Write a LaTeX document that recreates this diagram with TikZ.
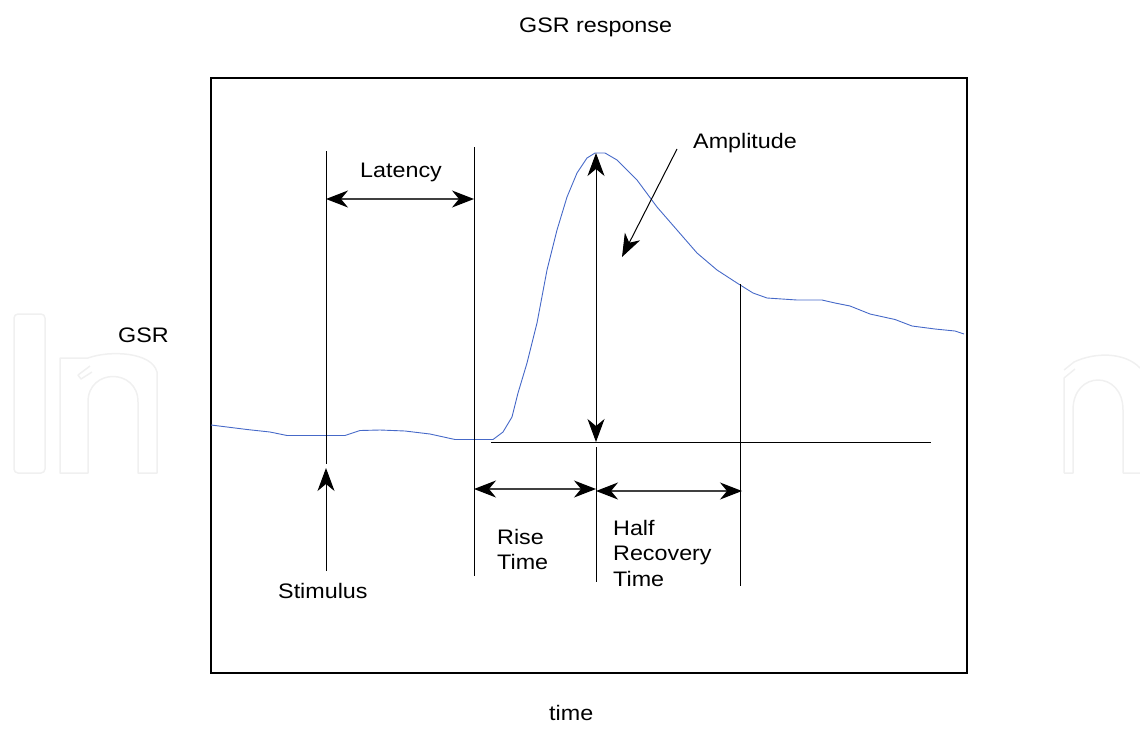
\documentclass[tikz,border=0pt]{standalone}
\usepackage{fontspec}
\setmainfont{Liberation Sans}[FakeStretch=1.11]
\usetikzlibrary{arrows.meta}

\begin{document}
\begin{tikzpicture}[x=1pt,y=-1pt]
\tikzstyle{every node}=[inner sep=0pt,font=\fontsize{21}{25.5}\selectfont];
\tikzstyle{guide}=[line width=1pt];
\tikzstyle{dimarrow}=[line width=1.3pt,black!75,{Stealth[length=22pt,width=17pt,inset=7pt,black]}-{Stealth[length=22pt,width=17pt,inset=7pt,black]}];
\tikzstyle{onearrow}=[line width=1pt,-{Stealth[length=23pt,width=17pt,inset=7pt]}];
\tikzstyle{gsr}=[line width=0.9pt,color={rgb,255:red,70;green,105;blue,200}];
\tikzstyle{watermark}=[line width=1.5pt,gray!12,line join=round];
\useasboundingbox (0,0) rectangle (1140,750);

% faint logo behind
\draw[watermark,rounded corners=4pt] (14,314) rectangle (45,473);
\draw[watermark] (60,473) -- (60,358) -- (88,358) .. controls (110,350) and (152,352) .. (157,372)
  -- (157,473) -- (138,473) -- (138,402) .. controls (138,368) and (88,368) .. (88,402) -- (88,473) -- cycle;
\draw[watermark] (90,366) -- (78,375) -- (81,379) -- (92,372);
\draw[watermark] (1064,473) -- (1064,378) -- (1075,369);
\draw[watermark] (1064,370) -- (1074,362) .. controls (1095,352) and (1125,352) .. (1140,368);
\draw[watermark] (1064,473) -- (1073,473) -- (1073,410) .. controls (1073,370) and (1123,370) .. (1123,410)
  -- (1123,473) -- (1140,473);

% frame and axis titles
\draw[line width=1.6pt] (211,78) rectangle (967,673);
\node[anchor=base west] (title) at (519,32) {GSR response};
\node[anchor=base west] (ylabel) at (118,342) {GSR};
\node[anchor=base west] (xlabel) at (549,720) {time};

% the response curve
\draw[gsr] plot coordinates {(211,425) (227,427) (247,429.5) (270,432) (287,435.5) (345,435.5)
  (360,430.5) (380,430) (405,431) (430,434) (455,439.5) (493,439.5) (503,432) (512,417) (518,393)
  (527,363) (537,323) (547,270) (557,230) (567,197) (577,173) (587,158) (595,153) (605,153)
  (617,160) (637,180) (657,207) (677,230) (697,253) (717,270) (737,283) (753,293) (767,298)
  (797,300) (822,300) (835,303) (850,306) (870,314) (895,319.5) (912,326) (935,329) (955,331) (964,334)};

% guide lines
\coordinate (stimtop) at (326,151);
\coordinate (stimbot) at (326,464);
\coordinate (lattop) at (474,147);
\coordinate (latbot) at (474,576);
\coordinate (peak) at (596,153);
\coordinate (base) at (596,442);
\coordinate (ampbot) at (596,447);
\coordinate (riseend) at (596,582);
\coordinate (halftop) at (740,284);
\coordinate (halfbot) at (740,586);
\coordinate (basestart) at (491,442);
\coordinate (baseend) at (931,442);
\draw[guide] (stimtop) -- (stimbot);
\draw[guide] (lattop) -- (latbot);
\draw[guide] (ampbot) -- (riseend);
\draw[guide] (halftop) -- (halfbot);
\draw[guide] (basestart) -- (baseend);

% intervals
\coordinate (lat1) at (326,199);
\coordinate (lat2) at (474,199);
\coordinate (rise1) at (474,489);
\coordinate (rise2) at (596,489);
\coordinate (half1) at (596,491);
\coordinate (half2) at (742,491);
\draw[dimarrow] (lat1) -- (lat2);
\draw[dimarrow] (rise1) -- (rise2);
\draw[dimarrow] (half1) -- (half2);
\draw[line width=1pt,{Stealth[length=23pt,width=17pt,inset=7pt]}-{Stealth[length=23pt,width=17pt,inset=7pt]}] (base) -- (peak);

% labels
\node[anchor=base west] (latency) at (360,177) {Latency};
\node[anchor=base west] (amplitude) at (693,148) {Amplitude};
\node[anchor=base west] (stimulus) at (278,598) {Stimulus};
\node[anchor=north west,align=left] (risetime) at (497,529) {Rise\\Time};
\node[anchor=north west,align=left] (halfrec) at (613,520) {Half\\Recovery\\Time};

\coordinate (ampfrom) at (677,149);
\coordinate (ampto) at (622,257);
\coordinate (stimfrom) at (326,571);
\coordinate (stimto) at (326,468);
\draw[onearrow] (ampfrom) -- (ampto);
\draw[onearrow] (stimfrom) -- (stimto);
\end{tikzpicture}
\end{document}
